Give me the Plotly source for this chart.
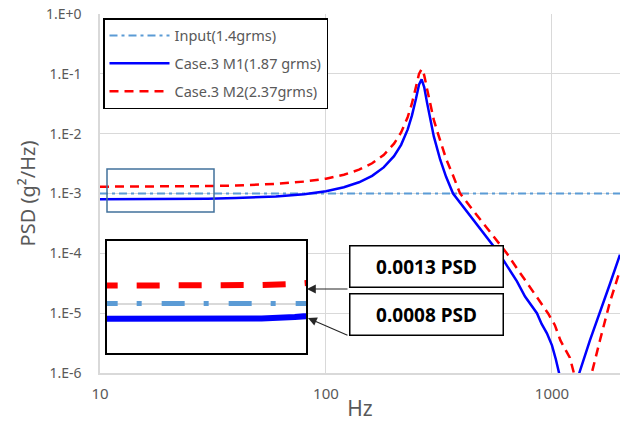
import math
import plotly.graph_objects as go

# ---------------- data ----------------
input_freq = [10, 2000]
input_psd = [1.0e-3, 1.0e-3]

m1_freq = [10, 20, 25, 30, 40, 50, 60, 80, 100, 120, 140, 160, 180, 200, 215, 230,
           240, 250, 258, 265, 272, 280, 290, 300, 320, 340, 365, 400, 450, 500,
           583, 700, 760, 858, 900, 950, 1000, 1040, 1075, 1120, 1180, 1250,
           1321, 1472, 1630, 1806, 2000]
m1_psd = [8.0e-4, 8.0e-4, 8.05e-4, 8.2e-4, 8.4e-4, 8.6e-4, 8.9e-4, 9.7e-4, 1.09e-3,
          1.27e-3, 1.54e-3, 1.97e-3, 2.73e-3, 4.2e-3, 6.5e-3, 1.18e-2,
          2.0e-2, 3.8e-2, 6.6e-2, 8.1e-2, 6.0e-2, 3.3e-2, 1.6e-2, 9.0e-3, 3.7e-3,
          1.9e-3, 1.0e-3, 6.4e-4, 3.55e-4, 2.1e-4,
          1.0e-4, 3.4e-5, 1.9e-5, 1.0e-5, 6.6e-6, 4.6e-6, 2.9e-6, 1.7e-6, 1.0e-6,
          4.0e-7, 3.0e-8, 2.5e-7,
          1.0e-6, 3.5e-6, 1.0e-5, 3.1e-5, 9.5e-5]

m2_freq = [10, 20, 25, 30, 40, 50, 60, 80, 100, 120, 140, 160, 180, 200, 215, 230,
           240, 250, 258, 265, 272, 280, 290, 300, 313, 340, 365, 392, 450, 500,
           560, 631, 700, 800, 850, 900, 960, 1030, 1090, 1200, 1250, 1300,
           1370, 1430, 1500, 1630, 1806, 2000]
m2_psd = [1.30e-3, 1.30e-3, 1.31e-3, 1.33e-3, 1.36e-3, 1.40e-3, 1.45e-3, 1.58e-3,
          1.77e-3, 2.06e-3, 2.50e-3, 3.2e-3, 4.4e-3, 6.8e-3, 1.05e-2, 1.9e-2,
          3.2e-2, 6.0e-2, 1.0e-1, 1.2e-1, 9.5e-2, 5.6e-2, 2.9e-2, 1.7e-2, 1.0e-2,
          3.8e-3, 2.0e-3, 1.0e-3, 5.1e-4, 3.1e-4,
          1.8e-4, 1.0e-4, 5.6e-5, 2.7e-5, 1.9e-5, 1.4e-5, 1.0e-5, 6.3e-6, 3.5e-6,
          1.8e-6, 1.0e-6, 4.0e-7, 4.0e-8, 3.0e-7, 1.0e-6, 3.5e-6, 1.55e-5, 5.2e-5]

names = ["Input(1.4grms)", "Case.3 M1(1.87 grms)", "Case.3 M2(2.37grms)"]
y_tickvals = [1e-6, 1e-5, 1e-4, 1e-3, 1e-2, 1e-1, 1e0]
y_ticktext = ["1.E-6", "1.E-5", "1.E-4", "1.E-3", "1.E-2", "1.E-1", "1.E+0"]
x_tickvals = [10, 100, 1000]
x_ticktext = ["10", "100", "1000"]
callout_texts = ["<b>0.0013 PSD</b>", "<b>0.0008 PSD</b>"]

# ---------------- styling ----------------
C_IN = "#5B9BD5"
C_M1 = "#0000FF"
C_M2 = "#FF0000"
GRID = "#D9D9D9"
TXT = "#595959"
FONT = "Noto Sans"

W, H = 628, 428
L, R, T, B = 100, 8, 14, 55
PW, PH = W - L - R, H - T - B


def px(xp):
    return (xp - L) / PW


def py(yp):
    return (H - B - yp) / PH


fig = go.Figure()

# main traces
fig.add_trace(go.Scatter(x=input_freq, y=input_psd, mode="lines", name=names[0],
                         legendgroup="a",
                         line=dict(color=C_IN, width=2, dash="8px,4px,3px,4px")))
fig.add_trace(go.Scatter(x=m1_freq, y=m1_psd, mode="lines", name=names[1],
                         legendgroup="b",
                         line=dict(color=C_M1, width=2.5)))
fig.add_trace(go.Scatter(x=m2_freq, y=m2_psd, mode="lines", name=names[2],
                         legendgroup="c",
                         line=dict(color=C_M2, width=2.5, dash="9px,6px")))

# inset (magnified) traces
fig.add_trace(go.Scatter(x=input_freq, y=input_psd, mode="lines", showlegend=False,
                         xaxis="x2", yaxis="y2",
                         line=dict(color=C_IN, width=5, dash="23px,19px,5px,20px")))
fig.add_trace(go.Scatter(x=m1_freq, y=m1_psd, mode="lines", showlegend=False,
                         xaxis="x2", yaxis="y2",
                         line=dict(color=C_M1, width=6)))
fig.add_trace(go.Scatter(x=m2_freq, y=m2_psd, mode="lines", showlegend=False,
                         xaxis="x2", yaxis="y2",
                         line=dict(color=C_M2, width=6, dash="23px,19px")))

inset_x = [px(107), px(306)]
inset_y = [py(353), py(241)]

fig.update_layout(
    width=W, height=H,
    margin=dict(l=L, r=R, t=T, b=B),
    paper_bgcolor="white", plot_bgcolor="white",
    font=dict(family=FONT, color=TXT, size=14),
    xaxis=dict(type="log", range=[1, math.log10(2000)],
               tickvals=x_tickvals, ticktext=x_ticktext,
               showgrid=True, gridcolor=GRID, gridwidth=1,
               showline=True, linecolor=GRID, linewidth=1.5,
               ticks="", ticklabelstandoff=6, automargin=False,
               tickfont=dict(size=15, color=TXT),
               title=dict(text="Hz", font=dict(size=21, color=TXT), standoff=0),
               zeroline=False),
    yaxis=dict(type="log", range=[-6, 0],
               tickvals=y_tickvals, ticktext=y_ticktext,
               showgrid=True, gridcolor=GRID, gridwidth=1,
               showline=True, linecolor=GRID, linewidth=1.5,
               ticks="", ticklabelstandoff=14, automargin=False,
               tickfont=dict(size=14, color=TXT),
               title=dict(text="PSD (g²/Hz)", font=dict(size=20, color=TXT), standoff=5),
               zeroline=False),
    xaxis2=dict(type="log", domain=inset_x, anchor="y2",
                range=[math.log10(10.7), math.log10(31.9)],
                showgrid=False, showticklabels=False, ticks="", zeroline=False,
                showline=True, mirror=True, linecolor="black", linewidth=2),
    yaxis2=dict(type="log", domain=inset_y, anchor="x2",
                range=[-3.314, -2.603],
                tickvals=[1e-3], showgrid=True, gridcolor=GRID, gridwidth=2,
                showticklabels=False, ticks="", zeroline=False,
                showline=True, mirror=True, linecolor="black", linewidth=2),
    legend=dict(x=px(103), y=py(18), xanchor="left", yanchor="top",
                bgcolor="white", bordercolor="black", borderwidth=1.5,
                font=dict(size=14.5, color=TXT, family=FONT),
                traceorder="grouped", tracegroupgap=6, itemwidth=60),
    showlegend=True,
)

# highlight box around the magnified region
fig.add_shape(type="rect", xref="paper", yref="paper",
              x0=px(107), x1=px(214), y0=py(212), y1=py(169),
              line=dict(color="#41719C", width=1.5), fillcolor="rgba(0,0,0,0)")

# callout boxes
for txt, cy in zip(callout_texts, [288, 336]):
    fig.add_annotation(xref="paper", yref="paper", x=px(426), y=py(cy),
                       text=txt, showarrow=False,
                       font=dict(size=19, color="black", family=FONT),
                       bgcolor="white", bordercolor="black", borderwidth=1.5,
                       width=148, height=36, borderpad=2)

# arrows
for (tx, ty, sx, sy) in [(307, 289, 349, 289), (308, 318, 349, 336)]:
    fig.add_annotation(xref="paper", yref="paper", x=px(tx), y=py(ty),
                       text="", showarrow=True, ax=sx - tx, ay=sy - ty,
                       arrowhead=2, arrowsize=1.6, arrowwidth=1.1,
                       arrowcolor="#262626")

fig.write_html("out.html",
               config={"displayModeBar": False},
               post_script="document.body.style.margin='0';"
                           "document.body.style.overflow='hidden';")
